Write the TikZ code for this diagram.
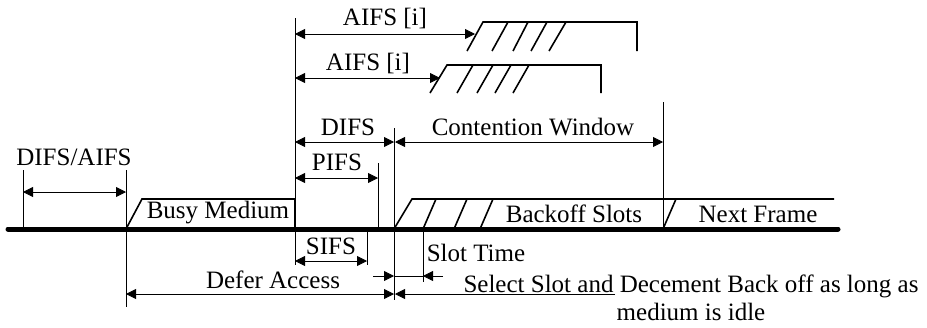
\documentclass[tikz,border=0pt]{standalone}
\usepackage{fontspec}
\setmainfont{Liberation Serif}
\usetikzlibrary{arrows.meta}
\begin{document}
\begin{tikzpicture}[x=1pt,y=-1pt,
  lbl/.style={inner sep=0pt, font=\fontsize{25}{28}\selectfont},
  thinline/.style={line width=0.8pt},
  frame/.style={line width=1.6pt},
  dimline/.style={line width=0.8pt, {Triangle[length=10pt,width=10pt]}-{Triangle[length=10pt,width=10pt]}},
  tipline/.style={line width=0.8pt, -{Triangle[length=10pt,width=10pt]}},
  baseline/.style={line width=5pt, line cap=round}]
\useasboundingbox (0,0) rectangle (927,327);

% base line
\coordinate (b0) at (8,229);
\coordinate (b1) at (838,229);
\draw[baseline] (b0) -- (b1);

% vertical reference lines
\coordinate (v1t) at (23,170);  \coordinate (v1b) at (23,229);
\coordinate (v2t) at (126,170); \coordinate (v2b) at (126,307);
\coordinate (v3t) at (295,18);  \coordinate (v3b) at (295,265);
\coordinate (v4t) at (378,163); \coordinate (v4b) at (378,229);
\coordinate (v5t) at (367,229); \coordinate (v5b) at (367,265);
\coordinate (v6t) at (394,128); \coordinate (v6b) at (394,300);
\coordinate (v7t) at (423,229); \coordinate (v7b) at (423,282);
\coordinate (v8t) at (663,102); \coordinate (v8b) at (663,229);
\foreach \v in {v1,v2,v3,v4,v5,v6,v7,v8}
  \draw[thinline] (\v t) -- (\v b);

% busy medium
\coordinate (bm1) at (142,199);
\coordinate (bm2) at (295,199);
\draw[frame] (v2b |- b0) -- (bm1) -- (bm2) -- (v3b |- b0);
\node[lbl] (busy) at (218,213) {Busy Medium};

% backoff slots
\coordinate (bo1) at (412,199);
\coordinate (bo2) at (834,199);
\draw[frame] (394,229) -- (bo1) -- (bo2);
\coordinate (s1a) at (423,229); \coordinate (s1b) at (436,199);
\coordinate (s2a) at (454,229); \coordinate (s2b) at (467,199);
\coordinate (s3a) at (480,229); \coordinate (s3b) at (493,199);
\coordinate (s4a) at (663,229); \coordinate (s4b) at (676,199);
\foreach \s in {s1,s2,s3,s4}
  \draw[frame] (\s a) -- (\s b);
\node[lbl] (backoff) at (574,214) {Backoff Slots};
\node[lbl] (next) at (758,214) {Next Frame};

% AIFS upper group
\coordinate (ua1) at (467,51); \coordinate (ua2) at (483,22);
\coordinate (ua3) at (637,22); \coordinate (ua4) at (637,51);
\draw[frame] (ua1) -- (ua2) -- (ua3) -- (ua4);
\foreach \xa/\xb in {492/508,513/528,531/547,549/566}
  \draw[frame] (\xa,51) -- (\xb,22);
% AIFS lower group
\coordinate (la1) at (430,93); \coordinate (la2) at (447,65);
\coordinate (la3) at (601,65); \coordinate (la4) at (601,93);
\draw[frame] (la1) -- (la2) -- (la3) -- (la4);
\foreach \xa/\xb in {457/473,477/493,495/511,513/529}
  \draw[frame] (\xa,93) -- (\xb,65);

% dimension arrows
\coordinate (d1a) at (23,192);  \coordinate (d1b) at (126,192);
\draw[dimline] (d1a) -- (d1b);
\node[lbl] (difsaifs) at (74,157) {DIFS/AIFS};

\coordinate (pa) at (295,178); \coordinate (pb) at (378,178);
\draw[dimline] (pa) -- (pb);
\node[lbl] (pifs) at (337,162) {PIFS};

\coordinate (sa) at (295,261); \coordinate (sb) at (367,261);
\draw[dimline] (sa) -- (sb);
\node[lbl] (sifs) at (331,246) {SIFS};

\coordinate (da) at (126,294); \coordinate (db) at (394,294);
\draw[dimline] (da) -- (db);
\node[lbl] (defer) at (273,280) {Defer Access};

\coordinate (dfa) at (295,142); \coordinate (dfb) at (394,142);
\draw[dimline] (dfa) -- (dfb);
\node[lbl] (difs) at (348,127) {DIFS};

\coordinate (cwa) at (395,142); \coordinate (cwb) at (663,142);
\draw[dimline] (cwa) -- (cwb);
\node[lbl] (cw) at (533,127) {Contention Window};

\coordinate (a1a) at (295,34); \coordinate (a1b) at (475,34);
\draw[dimline] (a1a) -- (a1b);
\node[lbl] (aifs1) at (385,18) {AIFS [i]};

\coordinate (a2a) at (295,78); \coordinate (a2b) at (440,78);
\draw[dimline] (a2a) -- (a2b);
\node[lbl] (aifs2) at (368,63) {AIFS [i]};

% slot time
\coordinate (st0) at (373,276); \coordinate (st1) at (394,276);
\coordinate (st2) at (423,276); \coordinate (st3) at (443,276);
\draw[tipline] (st0) -- (st1);
\draw[thinline] (st1) -- (st2);
\draw[tipline] (st3) -- (st2);
\node[lbl] (slot) at (476,253) {Slot Time};

% select slot
\coordinate (se0) at (615,294); \coordinate (se1) at (395,294);
\draw[tipline] (se0) -- (se1);
\node[lbl, align=center] (select) at (691,298) {Select Slot and Decement Back off as long as\\medium is idle};
\end{tikzpicture}
\end{document}
